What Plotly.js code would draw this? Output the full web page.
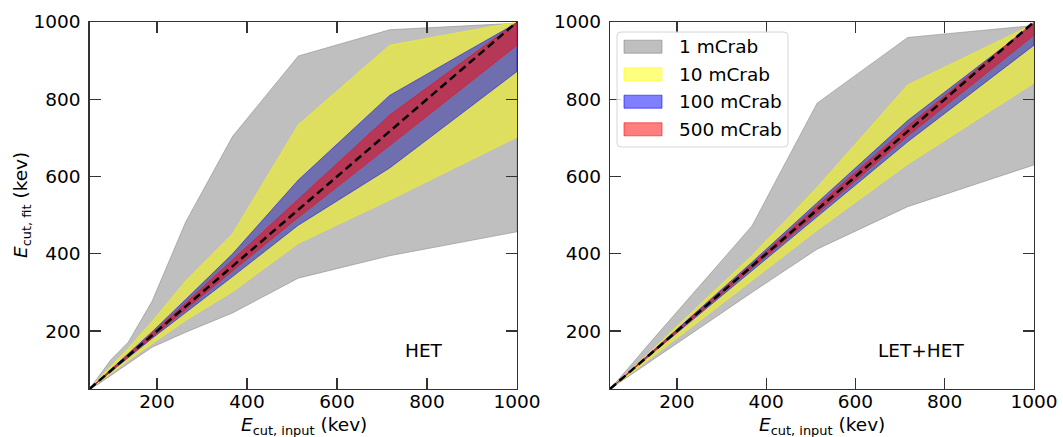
<!DOCTYPE html>
<html>
<head>
<meta charset="utf-8">
<script src="https://cdn.plot.ly/plotly-3.0.1.min.js"></script>
<style>html,body{margin:0;padding:0;background:#fff;}#chart{width:1063px;height:437px;}</style>
</head>
<body>
<div id="chart"></div>
<script>
// input cut-off energies (keV)
var xs = [50, 70, 97, 136, 189, 264, 368, 514, 717, 1000];

// HET panel bands (upper / lower bounds of fitted Ecut)
var het_1_hi   = [50, 82, 125, 171, 277, 483, 704, 912, 980, 997];
var het_1_lo   = [50, 63, 85, 115, 158, 197, 247, 337, 395, 457];
var het_10_hi  = [50, 76, 108, 155, 225, 330, 452, 734, 940, 1000];
var het_10_lo  = [50, 67, 90, 124, 168, 228, 302, 427, 539, 702];
var het_100_hi = [50, 71, 100, 141, 198, 282, 400, 591, 810, 998];
var het_100_lo = [50, 69, 94, 131, 181, 248, 341, 474, 622, 872];
var het_500_hi = [50, 70.5, 98.5, 138.5, 194, 273, 384, 540, 759, 1000];
var het_500_lo = [50, 69.5, 95.5, 133.5, 184, 255, 356, 494, 680, 940];

// LET+HET panel bands
var all_1_hi   = [50, 76, 112, 165, 235, 335, 472, 790, 960, 991];
var all_1_lo   = [50, 66, 87, 118, 159, 218, 300, 412, 522, 630];
var all_10_hi  = [50, 71, 100, 142, 200, 283, 395, 572, 837, 995];
var all_10_lo  = [50, 68, 93, 126, 172, 238, 330, 461, 632, 842];
var all_100_hi = [50, 70.5, 98, 138, 192, 270, 378, 532, 745, 996];
var all_100_lo = [50, 69.5, 96, 134, 186, 258, 358, 496, 690, 940];
var all_500_hi = [50, 70.3, 97.6, 137, 190.5, 267, 373, 524, 730, 1000];
var all_500_lo = [50, 69.7, 96.4, 135, 187.5, 261, 363, 504, 705, 966];

var labels = ["1 mCrab", "10 mCrab", "100 mCrab", "500 mCrab"];
var panelNames = ["HET", "LET+HET"];
var tickVals = [200, 400, 600, 800, 1000];
var xTitle = "<i>E</i><sub>cut, input</sub> (kev)";
var yTitle = "<i>E</i><sub>cut, fit</sub> (kev)";

var fills = ["rgba(128,128,128,0.5)", "rgba(255,255,0,0.5)", "rgba(0,0,255,0.5)", "rgba(255,0,0,0.5)"];

var W = 1063, H = 437;
function px(v) { return v / W; }
function py(v) { return 1 - v / H; }

var panels = [
  {xa: "x", ya: "y", his: [het_1_hi, het_10_hi, het_100_hi, het_500_hi], los: [het_1_lo, het_10_lo, het_100_lo, het_500_lo]},
  {xa: "x2", ya: "y2", his: [all_1_hi, all_10_hi, all_100_hi, all_500_hi], los: [all_1_lo, all_10_lo, all_100_lo, all_500_lo]}
];

var traces = [];
panels.forEach(function (p) {
  for (var i = 0; i < 4; i++) {
    var xr = xs.slice().reverse();
    var lr = p.los[i].slice().reverse();
    traces.push({
      type: "scatter", mode: "lines",
      x: xs.concat(xr), y: p.his[i].concat(lr),
      xaxis: p.xa, yaxis: p.ya,
      fill: "toself", fillcolor: fills[i],
      line: {color: fills[i], width: 1},
      name: labels[i], showlegend: false,
      hoverinfo: "skip"
    });
  }
  traces.push({
    type: "scatter", mode: "lines",
    x: xs, y: xs, xaxis: p.xa, yaxis: p.ya,
    line: {color: "black", width: 2.5, dash: "8px,4.5px"},
    showlegend: false, hoverinfo: "skip"
  });
});

var font = {family: "DejaVu Sans", size: 18.5, color: "#000"};
function axis(domain, anchor, standoff) {
  return {
    domain: domain, anchor: anchor, range: [50, 1000],
    tickvals: tickVals, ticks: "inside", ticklen: 11, tickwidth: 1.3, tickcolor: "#333",
    showline: true, linecolor: "#333", linewidth: 1.3, mirror: "ticks",
    showgrid: false, zeroline: false, tickfont: font, ticklabelstandoff: standoff
  };
}

// legend drawn as shapes + texts (box in the right panel)
var shapes = [];
var annotations = [];
var bx0 = 617, bx1 = 788, by0 = 32, by1 = 147, r = 4;
shapes.push({
  type: "path", xref: "paper", yref: "paper",
  path: "M" + px(bx0 + r) + "," + py(by0) +
        " L" + px(bx1 - r) + "," + py(by0) +
        " Q" + px(bx1) + "," + py(by0) + " " + px(bx1) + "," + py(by0 + r) +
        " L" + px(bx1) + "," + py(by1 - r) +
        " Q" + px(bx1) + "," + py(by1) + " " + px(bx1 - r) + "," + py(by1) +
        " L" + px(bx0 + r) + "," + py(by1) +
        " Q" + px(bx0) + "," + py(by1) + " " + px(bx0) + "," + py(by1 - r) +
        " L" + px(bx0) + "," + py(by0 + r) +
        " Q" + px(bx0) + "," + py(by0) + " " + px(bx0 + r) + "," + py(by0) + " Z",
  fillcolor: "rgba(255,255,255,0.8)", line: {color: "#d6d6d6", width: 1}, layer: "above"
});
var rowY = [46.7, 74.3, 101.7, 129.3];
var edge = ["rgba(128,128,128,0.55)", "rgba(255,255,0,0.55)", "rgba(0,0,255,0.55)", "rgba(255,0,0,0.55)"];
for (var i = 0; i < 4; i++) {
  shapes.push({
    type: "rect", xref: "paper", yref: "paper",
    x0: px(624), x1: px(662), y0: py(rowY[i] - 6.5), y1: py(rowY[i] + 6.5),
    fillcolor: fills[i], line: {color: edge[i], width: 1}, layer: "above"
  });
  annotations.push({
    text: labels[i], xref: "paper", yref: "paper", x: px(677), y: py(rowY[i]),
    xanchor: "left", yanchor: "middle", showarrow: false, font: font
  });
}
// panel labels
annotations.push({text: panelNames[0], xref: "paper", yref: "paper", x: px(424), y: py(363), showarrow: false, font: font});
annotations.push({text: panelNames[1], xref: "paper", yref: "paper", x: px(966), y: py(363), showarrow: false, font: font});
// axis titles
annotations.push({text: xTitle, xref: "paper", yref: "paper", x: px(304), y: py(426), xanchor: "center", yanchor: "middle", showarrow: false, font: font});
annotations.push({text: xTitle, xref: "paper", yref: "paper", x: px(822), y: py(426), xanchor: "center", yanchor: "middle", showarrow: false, font: font});
annotations.push({text: yTitle, xref: "paper", yref: "paper", x: px(22), y: py(205), xanchor: "center", yanchor: "middle", textangle: -90, showarrow: false, font: font});

var yDom = [1 - 389 / H, 1 - 22 / H];
var layout = {
  width: W, height: H,
  margin: {l: 0, r: 0, t: 0, b: 0},
  paper_bgcolor: "white", plot_bgcolor: "white",
  font: font,
  xaxis: axis([89.5 / W, 517 / W], "y", -5),
  yaxis: axis(yDom, "x", 4),
  xaxis2: axis([610 / W, 1034 / W], "y2", -5),
  yaxis2: axis(yDom, "x2", 4),
  shapes: shapes,
  annotations: annotations,
  showlegend: false
};

Plotly.newPlot("chart", traces, layout, {displayModeBar: false, staticPlot: true});
</script>
</body>
</html>
